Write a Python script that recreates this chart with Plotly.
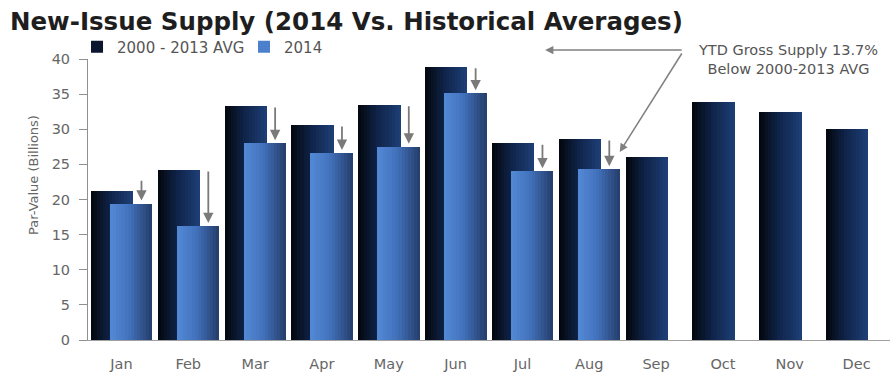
import plotly.graph_objects as go

months = ["Jan", "Feb", "Mar", "Apr", "May", "Jun", "Jul", "Aug", "Sep", "Oct", "Nov", "Dec"]
avg_2000_2013 = [21.2, 24.2, 33.3, 30.6, 33.5, 38.9, 28.0, 28.6, 26.0, 33.9, 32.5, 30.0]
supply_2014 = [19.4, 16.2, 28.0, 26.6, 27.5, 35.1, 24.0, 24.3, None, None, None, None]
yticks = [0, 5, 10, 15, 20, 25, 30, 35, 40]

x = list(range(len(months)))


def lerp_color(stops, t):
    for (t0, c0), (t1, c1) in zip(stops[:-1], stops[1:]):
        if t0 <= t <= t1:
            f = (t - t0) / (t1 - t0) if t1 > t0 else 0
            a = [int(c0[i:i + 2], 16) for i in (1, 3, 5)]
            b = [int(c1[i:i + 2], 16) for i in (1, 3, 5)]
            return "#%02x%02x%02x" % tuple(round(a[j] + (b[j] - a[j]) * f) for j in range(3))
    return stops[-1][1]


avg_stops = [(0.0, "#03060c"), (0.45, "#0f2347"), (1.0, "#1e3f78")]
new_stops = [(0.0, "#5389d6"), (0.45, "#4372bd"), (1.0, "#243d6a")]

fig = go.Figure()
N = 14


def add_series(yvals, base_off, width, stops, name, legend_k):
    for k in range(N):
        t = (k + 0.5) / N
        fig.add_trace(go.Bar(
            x=x, y=yvals,
            offset=base_off + k * width / N,
            width=width * (1 - k / N),
            marker=dict(color=lerp_color(stops, t), line=dict(width=0)),
            name=name,
            showlegend=(k == legend_k),
            legendgroup=name,
            hoverinfo="skip" if k != legend_k else None,
        ))


add_series(avg_2000_2013, -0.457, 0.635, avg_stops, "2000 - 2013 AVG", 3)
add_series(supply_2014, -0.172, 0.635, new_stops, "2014", 2)

annotations = []
for i, (a, b) in enumerate(zip(avg_2000_2013, supply_2014)):
    if b is None:
        continue
    annotations.append(dict(
        x=i + 0.3, y=b + 0.45, xref="x", yref="y",
        ax=i + 0.3, ay=max(a, b + 3.5), axref="x", ayref="y",
        text="", showarrow=True, arrowhead=2, arrowsize=1.15,
        arrowwidth=1.8, arrowcolor="#7a7a7a", standoff=0,
    ))

# callout
annotations.append(dict(
    x=0.873, y=0.997, xref="paper", yref="paper",
    text="YTD Gross Supply 13.7%<br>Below 2000-2013 AVG",
    showarrow=False, font=dict(family="DejaVu Sans", size=14.5, color="#555555"),
    align="center", xanchor="center", yanchor="middle",
))
annotations.append(dict(
    x=0.570, y=1.032, xref="paper", yref="paper", ax=138, ay=0,
    text="", showarrow=True, arrowhead=2, arrowsize=1.1, arrowwidth=1.5,
    arrowcolor="#808080", standoff=0,
))
annotations.append(dict(
    x=0.663, y=0.669, xref="paper", yref="paper", ax=63, ay=-100,
    text="", showarrow=True, arrowhead=2, arrowsize=1.1, arrowwidth=1.5,
    arrowcolor="#808080", standoff=0,
))
annotations.append(dict(
    x=-0.0686, y=0.587, xref="paper", yref="paper",
    text="Par-Value (Billions)", textangle=-90, showarrow=False,
    font=dict(family="DejaVu Sans", size=13, color="#666666"),
    xanchor="center", yanchor="middle",
))

fig.update_layout(
    width=890, height=374,
    margin=dict(l=88, r=0, t=59, b=34),
    paper_bgcolor="white", plot_bgcolor="white",
    barmode="overlay", bargap=0,
    title=dict(
        text="<b>New-Issue Supply (2014 Vs. Historical Averages)</b>",
        x=10 / 890, xanchor="left", y=1 - 21 / 374, yanchor="middle",
        font=dict(family="DejaVu Sans", size=24.5, color="#1e1e1e"),
    ),
    legend=dict(
        orientation="h", x=-0.0137, xanchor="left", y=1.043, yanchor="middle",
        font=dict(family="DejaVu Sans", size=15, color="#555555"),
        itemwidth=30, bgcolor="rgba(0,0,0,0)", traceorder="normal",
        entrywidth=122, entrywidthmode="pixels",
        itemclick=False,
    ),
    annotations=annotations,
    showlegend=True,
)
fig.update_xaxes(
    range=[-0.5, 11.5], tickvals=x, ticktext=months,
    showline=True, linecolor="#a0a0a0", linewidth=1, ticks="",
    showgrid=False, zeroline=False, ticklabelstandoff=11,
    tickfont=dict(family="DejaVu Sans", size=14.5, color="#666666"),
)
fig.update_yaxes(
    range=[0, 40], tickvals=yticks, showline=True, linecolor="#909090",
    linewidth=1, ticks="outside", ticklen=8, tickcolor="#909090",
    showgrid=False, zeroline=False, ticklabelstandoff=6,
    tickfont=dict(family="DejaVu Sans", size=14.5, color="#666666"),
)

fig.write_html("out.html", config={"displayModeBar": False},
               post_script="document.body.style.margin='0px';")
